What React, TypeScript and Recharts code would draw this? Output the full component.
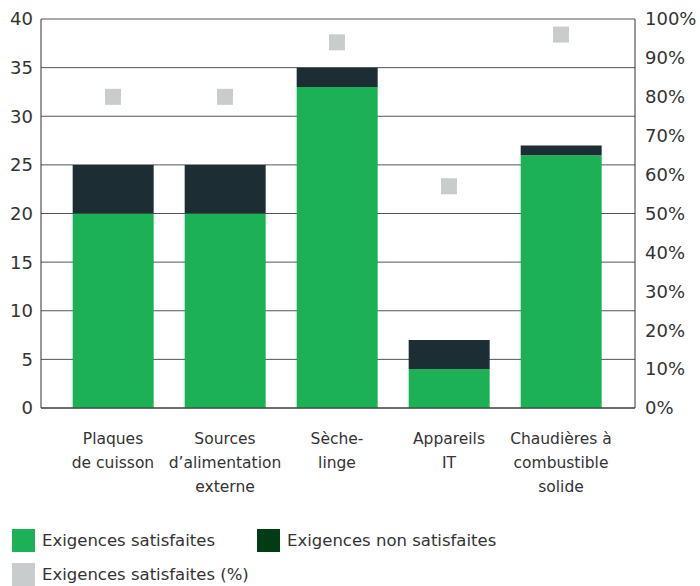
import { ComposedChart, Bar, Line, XAxis, YAxis, CartesianGrid } from 'recharts';

const categories = [
  'Plaques\nde cuisson',
  'Sources\nd’alimentation\nexterne',
  'Sèche-\nlinge',
  'Appareils\nIT',
  'Chaudières à\ncombustible\nsolide',
];
const satisfied = [20, 20, 33, 4, 26];
const notSatisfied = [5, 5, 2, 3, 1];
const satisfiedPct = [80, 80, 94, 57, 96];
const leftTicks = [0, 5, 10, 15, 20, 25, 30, 35, 40];
const rightTicks = [0, 10, 20, 30, 40, 50, 60, 70, 80, 90, 100];

const data = categories.map((name, i) => ({
  name,
  ok: satisfied[i],
  ko: notSatisfied[i],
  pct: satisfiedPct[i],
}));

const GREEN = '#1db157';
const DARK = '#1c2e33';
const GREY = '#c8cccc';
const TEXT = '#333';
const FONT = '"DejaVu Sans", sans-serif';

const CategoryTick = ({ x, y, payload }: any) => {
  const lines = String(payload.value).split('\n');
  return (
    <text x={x} y={y + 28} textAnchor="middle" fill={TEXT} fontSize={15.5} fontFamily={FONT}>
      {lines.map((l, i) => (
        <tspan key={i} x={x} dy={i === 0 ? 0 : 24}>
          {l}
        </tspan>
      ))}
    </text>
  );
};

const SquareDot = ({ cx, cy }: any) => {
  if (cx == null || cy == null) return null;
  return <rect x={cx - 8} y={cy - 8} width={16} height={16} fill={GREY} />;
};

const LegendItem = ({ color, label, left, top }: { color: string; label: string; left: number; top: number }) => (
  <div style={{ position: 'absolute', left, top, display: 'flex', alignItems: 'center', height: 23 }}>
    <div style={{ width: 23, height: 23, background: color, marginRight: 7 }} />
    <span style={{ fontSize: 16.5, lineHeight: '23px', color: TEXT, fontFamily: FONT, whiteSpace: 'nowrap' }}>
      {label}
    </span>
  </div>
);

export default function App() {
  return (
    <div style={{ position: 'fixed', top: 0, left: 0, width: 700, height: 586, background: '#fff' }}>
      <ComposedChart
        width={700}
        height={520}
        data={data}
        margin={{ top: 19, right: 0, left: 0, bottom: 0 }}
        barCategoryGap="14%"
      >
        <CartesianGrid vertical={false} stroke="#555" yAxisId="left" />
        <XAxis
          dataKey="name"
          tick={<CategoryTick />}
          tickLine={false}
          axisLine={{ stroke: '#333' }}
          interval={0}
          height={112}
          padding={{ left: 16, right: 18 }}
        />
        <YAxis
          yAxisId="left"
          domain={[0, 40]}
          ticks={leftTicks}
          width={41}
          tickLine={false}
          axisLine={{ stroke: '#333' }}
          tick={{ fill: TEXT, fontSize: 18, fontFamily: FONT }}
          tickMargin={2}
        />
        <YAxis
          yAxisId="right"
          orientation="right"
          domain={[0, 100]}
          ticks={rightTicks}
          width={65}
          tickLine={false}
          axisLine={{ stroke: '#333' }}
          tick={{ fill: TEXT, fontSize: 18, fontFamily: FONT }}
          tickFormatter={(v: number) => `${v}%`}
          tickMargin={4}
        />
        <Bar yAxisId="left" dataKey="ok" stackId="a" fill={GREEN} isAnimationActive={false} />
        <Bar yAxisId="left" dataKey="ko" stackId="a" fill={DARK} isAnimationActive={false} />
        <Line
          yAxisId="right"
          dataKey="pct"
          stroke="none"
          dot={<SquareDot />}
          activeDot={false}
          isAnimationActive={false}
        />
      </ComposedChart>
      <LegendItem color={GREEN} label="Exigences satisfaites" left={12} top={529} />
      <LegendItem color="#003d14" label="Exigences non satisfaites" left={257} top={529} />
      <LegendItem color={GREY} label="Exigences satisfaites (%)" left={12} top={563} />
    </div>
  );
}
